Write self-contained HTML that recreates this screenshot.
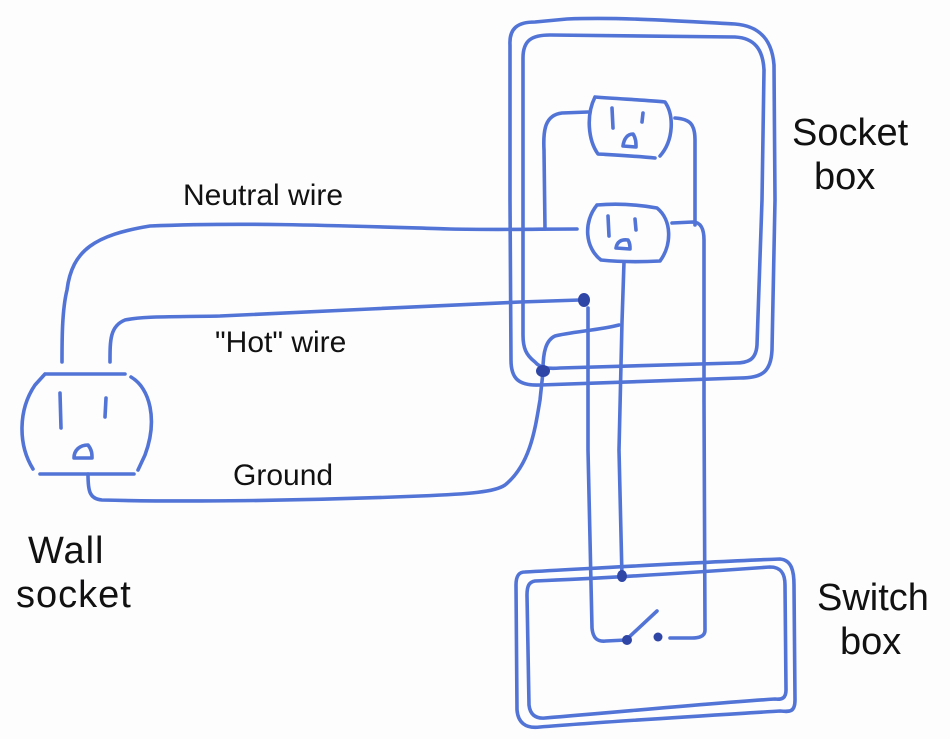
<!DOCTYPE html>
<html><head><meta charset="utf-8"><style>
html,body{margin:0;padding:0;background:#fdfdfe;}
svg{display:block;}
text{font-family:"Liberation Sans",Arial,sans-serif;fill:#111;}
</style></head><body>
<svg width="950" height="739" viewBox="0 0 950 739" xmlns="http://www.w3.org/2000/svg">
<rect width="950" height="739" fill="#fdfdfe"/>
<g fill="none" stroke="#5274d6" stroke-width="3.6" stroke-linecap="round" stroke-linejoin="round">
<!-- Socket box outer -->
<path d="M510,45 C509,28 518,22 535,22 L567,19 C620,17 680,21 735,24 C760,26 772,40 774,65 L775,200 L772,350 C771,372 762,378 740,378 L540,385 C518,386 511,378 511,360 L510,200 Z"/>
<!-- Socket box inner -->
<path d="M523,58 C523,40 532,35 550,35 L735,37 C755,38 763,50 764,70 L762,200 L757,345 C756,360 748,363 735,363 L560,368 C548,369 540,368 535,362 C526,355 523,348 523,335 L523,200 Z"/>
<!-- Upper outlet -->
<path d="M595,97 C620,99 645,100 665,102 C674,115 674,140 660,156 M655,158 C635,156 615,155 598,154 C588,140 586,115 595,97"/>
<path d="M612,108 L613,128 M643,113 L642,122 M623,146 C624,138 628,134 633,134 C636,138 636,143 636,147 Z"/>
<!-- Lower outlet -->
<path d="M597,205 C620,203 640,205 657,208 C672,220 672,245 660,261 C640,262 620,262 601,260 C585,248 583,222 597,205"/>
<path d="M608,216 L609,236 M635,219 L636,230 M616,248 C617,242 621,239 628,240 C630,243 630,246 630,249 Z"/>
<!-- Wall socket -->
<path d="M45,374 L125,374 M131,377 C150,388 158,420 145,455 L138,470 M134,474 L40,474 M33,469 C18,445 18,410 35,385 L45,374"/>
<path d="M60,393 L61,428 M106,398 L105,417 M74,458 C74,450 80,445 88,445 C92,450 92,454 92,458 Z"/>
<!-- Neutral wire -->
<path d="M62,362 C62,340 62,310 67,290 C72,250 95,235 150,226 C250,222 350,226 450,229 C500,230 540,229 577,229"/>
<!-- upper outlet left wire -->
<path d="M588,112 L562,113 C545,115 543,130 544,150 L545,229"/>
<!-- upper outlet right wire -->
<path d="M675,118 C690,119 695,124 695,140 L695,225"/>
<!-- lower outlet right wire -> switch -->
<path d="M672,223 L693,222 C700,222 704,228 704,240 L704,400 L705,630 C705,636 700,638 692,638 L670,638"/>
<!-- Hot wire -->
<path d="M110,362 C110,340 110,326 125,320 C145,316 170,317 220,316 C320,312 420,306 520,302 L580,300"/>
<!-- Hot vertical to switch -->
<path d="M588,308 L588,450 L592,628 C593,638 597,642 606,641 L626,640"/>
<!-- lower outlet bottom to switch -->
<path d="M624,262 L622,322 L619,450 L622,577"/>
<!-- ground link -->
<path d="M619,325 C600,330 570,332 555,336 C546,340 543,352 543,370"/>
<!-- Ground wire -->
<path d="M88,474 C88,490 89,499 102,500 C180,502 300,501 420,496 C470,494 495,492 505,485 C530,465 535,430 540,400 L543,372"/>
<!-- Switch box outer -->
<path d="M525,572 C600,568 700,562 780,559 C792,560 794,572 794,585 L795,700 C795,712 790,712 780,711 C700,716 600,722 540,727 C525,729 518,722 517,710 L516,585 C516,577 518,572 525,572 Z"/>
<!-- Switch box inner -->
<path d="M535,581 C610,578 700,572 770,567 C782,567 785,575 785,585 L786,690 C786,698 782,700 775,699 C700,704 620,712 545,718 C535,719 530,714 529,705 L527,595 C527,586 529,582 535,581 Z"/>
<!-- switch lever -->
<path d="M627,639 L657,611"/>
</g>
<g fill="#2f46a6">
<ellipse cx="584" cy="300" rx="6" ry="7"/>
<ellipse cx="543" cy="371" rx="7" ry="6"/>
<ellipse cx="622" cy="576" rx="5" ry="6"/>
<ellipse cx="627" cy="640" rx="5" ry="5"/>
<ellipse cx="658" cy="637" rx="4.5" ry="4.5"/>
</g>
<text x="183" y="205" font-size="30">Neutral wire</text>
<text x="215" y="352" font-size="30">"Hot" wire</text>
<text x="233" y="485" font-size="30">Ground</text>
<text x="792" y="145" font-size="38">Socket</text>
<text x="814" y="189" font-size="38">box</text>
<text x="28" y="563" font-size="38" letter-spacing="1">Wall</text>
<text x="16" y="607" font-size="38" letter-spacing="1">socket</text>
<text x="817" y="610" font-size="38">Switch</text>
<text x="840" y="654" font-size="38">box</text>
</svg>
</body></html>
